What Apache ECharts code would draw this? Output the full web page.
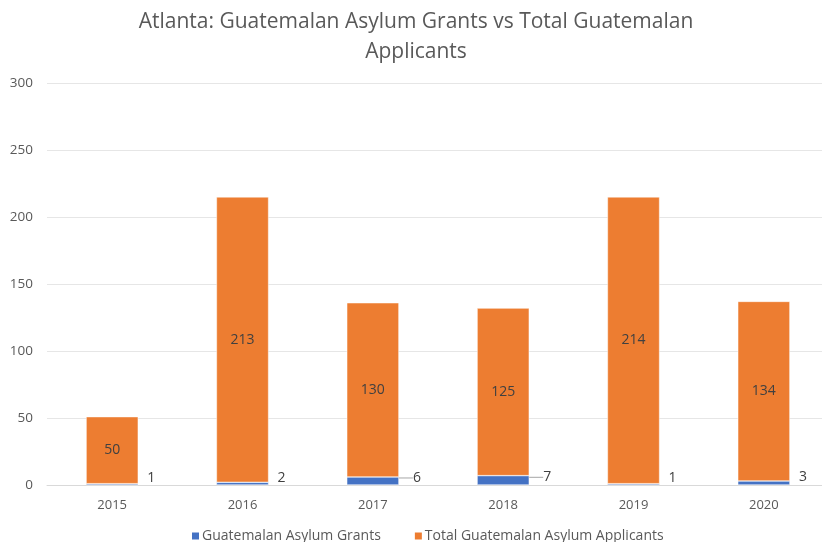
<!DOCTYPE html>
<html>
<head>
<meta charset="utf-8">
<script src="https://cdn.jsdelivr.net/npm/echarts@6/dist/echarts.min.js"></script>
<style>
  html, body { margin: 0; padding: 0; background: #ffffff; overflow: hidden; }
  #wrap { width: 822px; height: 542px; overflow: hidden; }
  /* the plot runs a few pixels past the right edge of the view */
  #chart { width: 829px; height: 542px; }
</style>
</head>
<body>
<div id="wrap"><div id="chart"></div></div>
<script>
// Atlanta: Guatemalan asylum grants stacked under total applicants, by year
const years = ['2015', '2016', '2017', '2018', '2019', '2020'];
const asylumGrants = [1, 2, 6, 7, 1, 3];
const totalApplicants = [50, 213, 130, 125, 214, 134];
const yTicks = [0, 50, 100, 150, 200, 250, 300];

const FONT = '"Open Sans", "Liberation Sans", sans-serif';
const TEXT_GREY = '#595959';

// grants with a leader line where the segment is tall enough to be seen
const grantsData = asylumGrants.map(v => ({
  value: v,
  labelLine: { show: v >= 5, lineStyle: { color: '#a6a6a6', width: 1 } }
}));

const chart = echarts.init(document.getElementById('chart'), null, { renderer: 'canvas' });

chart.setOption({
  animation: false,
  backgroundColor: '#ffffff',
  textStyle: { fontFamily: FONT },
  title: {
    text: 'Atlanta: Guatemalan Asylum Grants vs Total Guatemalan\nApplicants',
    left: 411,
    textAlign: 'center',
    top: 2,
    textStyle: {
      fontFamily: FONT,
      fontSize: 21,
      fontWeight: 'normal',
      color: TEXT_GREY,
      lineHeight: 30
    }
  },
  legend: {
    bottom: -6,
    left: 185,
    itemGap: 32,
    itemWidth: 9,
    itemHeight: 9,
    icon: 'rect',
    textStyle: { fontFamily: FONT, fontSize: 14, color: TEXT_GREY, padding: [0, 0, 0, -3] },
    data: ['Guatemalan Asylum Grants', 'Total Guatemalan Asylum Applicants']
  },
  grid: {
    left: 47,
    right: 0,
    top: 83,
    bottom: 57,
    containLabel: false
  },
  xAxis: {
    type: 'category',
    data: years,
    axisLine: { show: true, lineStyle: { color: '#d9d9d9', width: 1 } },
    axisTick: { show: false },
    axisLabel: { fontFamily: FONT, fontSize: 13, color: TEXT_GREY, margin: 14 }
  },
  yAxis: {
    type: 'value',
    min: yTicks[0],
    max: yTicks[yTicks.length - 1],
    interval: 50,
    axisLine: { show: false },
    axisTick: { show: false },
    axisLabel: { fontFamily: FONT, fontSize: 13.5, color: TEXT_GREY, margin: 14 },
    splitLine: { lineStyle: { color: '#e6e6e6', width: 1 } }
  },
  series: [
    {
      name: 'Guatemalan Asylum Grants',
      type: 'bar',
      stack: 'atl',
      barWidth: '40%',
      data: grantsData,
      itemStyle: { color: '#4472C4', borderColor: '#ffffff', borderWidth: 0.5 },
      label: {
        show: true,
        position: 'right',
        distance: 9,
        fontFamily: FONT,
        fontSize: 14,
        color: '#404040'
      },
      labelLayout: function (params) {
        const v = asylumGrants[params.dataIndex];
        return v >= 5 ? { dx: 5, dy: -3 } : { dy: -6 };
      }
    },
    {
      name: 'Total Guatemalan Asylum Applicants',
      type: 'bar',
      stack: 'atl',
      barWidth: '40%',
      data: totalApplicants,
      itemStyle: { color: '#ED7D31', borderColor: '#ffffff', borderWidth: 0.5 },
      label: {
        show: true,
        position: 'inside',
        fontFamily: FONT,
        fontSize: 14,
        color: '#404040'
      }
    }
  ]
});
</script>
</body>
</html>
